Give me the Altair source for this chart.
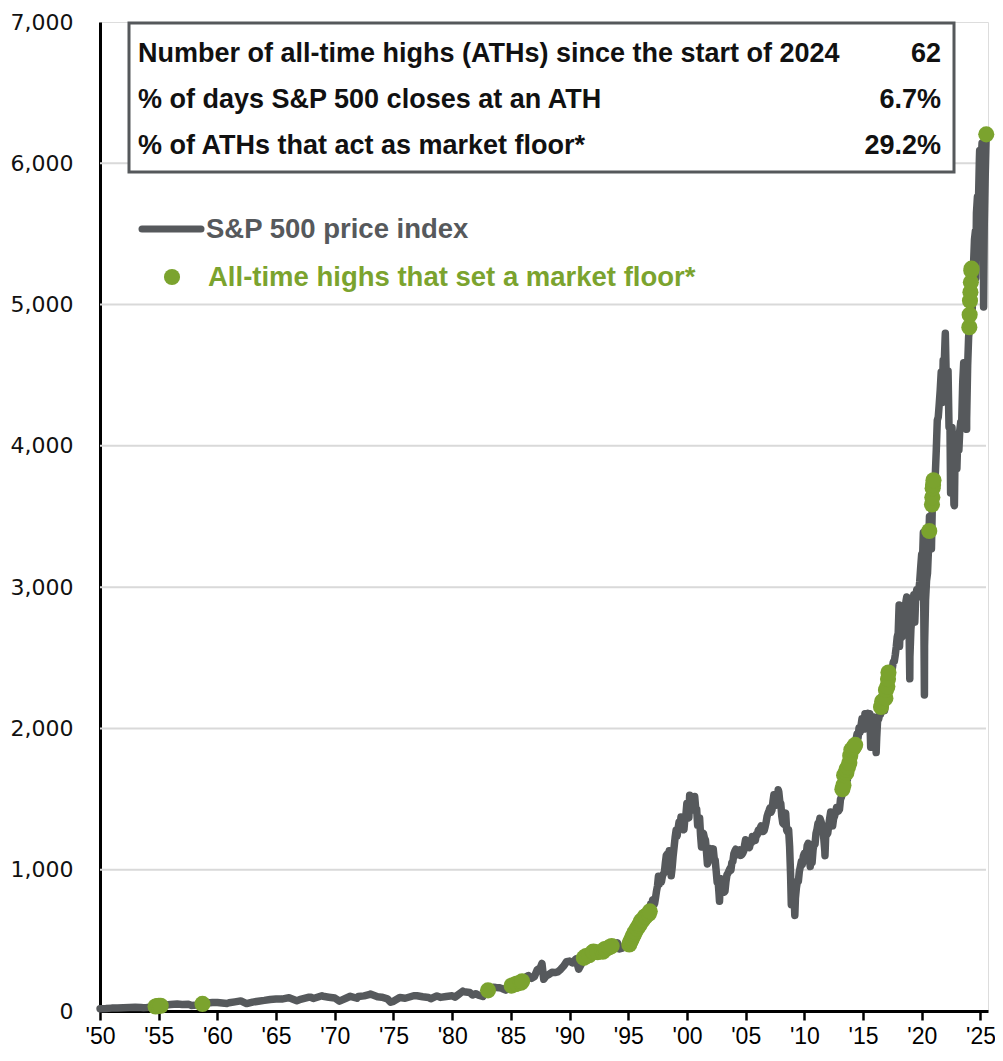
import altair as alt
import pandas as pd

GRAY = "#56595c"
GREEN = "#7ba32e"

# ---- S&P 500 price index: early irregular observations ----
early_dates = [
    "1950-01-03", "1950-06-30", "1950-12-29", "1951-06-29", "1951-12-31",
    "1952-06-30", "1952-12-31", "1953-06-30", "1953-09-14", "1953-12-31",
    "1954-06-30", "1954-12-31", "1955-06-30", "1955-12-30", "1956-07-31",
    "1956-12-31", "1957-07-15", "1957-10-22", "1957-12-31", "1958-06-30",
    "1958-12-31", "1959-07-31", "1959-12-31", "1960-10-25", "1960-12-30",
    "1961-06-30", "1961-12-29", "1962-06-26", "1962-12-31", "1963-06-28",
    "1963-12-31", "1964-06-30", "1964-12-31", "1965-06-30", "1965-12-31",
    "1966-02-09", "1966-10-07", "1966-12-30", "1967-09-25", "1967-12-29",
    "1968-03-05", "1968-11-29", "1968-12-31", "1969-06-30", "1969-12-31",
    "1970-05-26", "1970-12-31", "1971-04-28", "1971-11-23", "1971-12-31",
    "1972-06-30", "1972-12-29", "1973-01-11", "1973-08-22", "1973-12-31",
    "1974-06-28", "1974-10-03", "1974-12-31", "1975-07-15", "1975-12-31",
    "1976-09-21", "1976-12-31", "1977-06-30", "1977-12-30", "1978-03-06",
    "1978-09-12", "1978-12-29", "1979-06-29", "1979-12-31",
    "1980-03-27", "1980-06-30", "1980-11-28", "1980-12-31",
    "1981-06-30", "1981-09-25", "1981-12-31", "1982-03-31", "1982-08-12",
    "1982-10-29", "1982-12-31", "1983-03-31", "1983-06-30", "1983-09-30",
    "1983-12-30", "1984-03-30", "1984-07-24", "1984-09-28", "1984-12-31",
    "1985-03-29", "1985-06-28", "1985-09-30", "1985-12-31", "1986-03-31",
    "1986-06-30", "1986-09-30", "1986-12-31", "1987-03-31", "1987-06-30",
    "1987-08-25", "1987-10-19", "1987-12-31", "1988-03-31", "1988-06-30",
    "1988-09-30", "1988-12-30", "1989-03-31", "1989-06-30", "1989-09-29",
    "1989-12-29", "1990-03-30", "1990-07-16", "1990-10-11", "1990-12-31",
    "1991-03-28", "1991-06-28", "1991-09-30", "1991-12-31", "1992-03-31",
    "1992-06-30", "1992-09-30", "1992-12-31", "1993-03-31", "1993-06-30",
    "1993-09-30", "1993-12-31", "1994-01-31", "1994-04-04", "1994-06-30",
    "1994-09-30", "1994-12-30",
]
early_values = [
    16.7, 17.7, 20.4, 21.0, 23.8,
    25.0, 26.6, 24.1, 23.3, 24.8,
    29.2, 36.0, 41.0, 45.5, 49.4,
    46.7, 47.9, 39.4, 40.0, 45.2,
    55.2, 60.5, 59.9, 53.4, 58.1,
    64.6, 71.6, 52.3, 63.1, 69.4,
    75.0, 81.7, 84.8, 84.1, 92.4,
    94.0, 73.2, 80.3, 96.7, 96.5,
    88.0, 108.4, 103.9, 97.7, 92.1,
    69.3, 92.2, 104.0, 90.2, 102.1,
    107.1, 118.1, 120.2, 100.5, 97.6,
    86.0, 62.3, 68.6, 95.6, 90.2,
    107.8, 107.5, 100.5, 95.1, 86.9,
    106.9, 96.1, 102.9, 107.9,
    98.2, 114.2, 140.5, 135.8,
    131.2, 112.8, 122.6, 112.0, 102.4,
    133.7, 140.6, 153.0, 168.1, 166.1,
    164.9, 159.2, 147.8, 166.1, 167.2,
    180.7, 191.9, 182.1, 211.3, 238.9,
    250.8, 231.3, 242.2, 291.7, 304.0,
    336.8, 224.8, 247.1, 258.9, 273.5,
    272.0, 277.7, 294.9, 318.0, 349.2,
    353.4, 339.9, 368.9, 295.5, 330.2,
    375.2, 371.2, 387.9, 417.1, 403.7,
    408.1, 417.8, 435.7, 451.7, 450.5,
    458.9, 466.5, 482.0, 438.9, 444.3,
    462.7, 459.3,
]

# ---- monthly closes 1995 - mid 2025 ----
monthly_values = {
    1995: [470.4, 487.4, 500.7, 514.7, 533.4, 544.8, 562.1, 561.9, 584.4, 581.5, 605.4, 615.9],
    1996: [636.0, 640.4, 645.5, 654.2, 669.1, 670.6, 639.9, 652.0, 687.3, 705.3, 757.0, 740.7],
    1997: [786.2, 790.8, 757.1, 801.3, 848.3, 885.1, 954.3, 899.5, 947.3, 914.6, 955.4, 970.4],
    1998: [980.3, 1049.3, 1101.8, 1111.8, 1090.8, 1133.8, 1120.7, 957.3, 1017.0, 1098.7, 1163.6, 1229.2],
    1999: [1279.6, 1238.3, 1286.4, 1335.2, 1301.8, 1372.7, 1328.7, 1320.4, 1282.7, 1362.9, 1388.9, 1469.3],
    2000: [1394.5, 1366.4, 1498.6, 1452.4, 1420.6, 1454.6, 1430.8, 1517.7, 1436.5, 1429.4, 1315.2, 1320.3],
    2001: [1366.0, 1239.9, 1160.3, 1249.5, 1255.8, 1224.4, 1211.2, 1133.6, 1040.9, 1059.8, 1139.5, 1148.1],
    2002: [1130.2, 1106.7, 1147.4, 1076.9, 1067.1, 989.8, 911.6, 916.1, 815.3, 885.8, 936.3, 879.8],
    2003: [855.7, 841.2, 848.2, 916.9, 963.6, 974.5, 990.3, 1008.0, 996.0, 1050.7, 1058.2, 1111.9],
    2004: [1131.1, 1144.9, 1126.2, 1107.3, 1120.7, 1140.8, 1101.7, 1104.2, 1114.6, 1130.2, 1173.8, 1211.9],
    2005: [1181.3, 1203.6, 1180.6, 1156.9, 1191.5, 1191.3, 1234.2, 1220.3, 1228.8, 1207.0, 1249.5, 1248.3],
    2006: [1280.1, 1280.7, 1294.8, 1310.6, 1270.1, 1270.2, 1276.7, 1303.8, 1335.9, 1377.9, 1400.6, 1418.3],
    2007: [1438.2, 1406.8, 1420.9, 1482.4, 1530.6, 1503.4, 1455.3, 1474.0, 1526.8, 1549.4, 1481.1, 1468.4],
    2008: [1378.6, 1330.6, 1322.7, 1385.6, 1400.4, 1280.0, 1267.4, 1282.8, 1166.4, 968.8, 896.2, 903.3],
    2009: [825.9, 735.1, 797.9, 872.8, 919.1, 919.3, 987.5, 1020.6, 1057.1, 1036.2, 1095.6, 1115.1],
    2010: [1073.9, 1104.5, 1169.4, 1186.7, 1089.4, 1030.7, 1101.6, 1049.3, 1141.2, 1183.3, 1180.6, 1257.6],
    2011: [1286.1, 1327.2, 1325.8, 1363.6, 1345.2, 1320.6, 1292.3, 1218.9, 1131.4, 1253.3, 1247.0, 1257.6],
    2012: [1312.4, 1365.7, 1408.5, 1397.9, 1310.3, 1362.2, 1379.3, 1406.6, 1440.7, 1412.2, 1416.2, 1426.2],
    2013: [1498.1, 1514.7, 1569.2, 1597.6, 1630.7, 1606.3, 1685.7, 1633.0, 1681.6, 1756.5, 1805.8, 1848.4],
    2014: [1782.6, 1859.5, 1872.3, 1883.9, 1923.6, 1960.2, 1930.7, 2003.4, 1972.3, 2018.1, 2067.6, 2058.9],
    2015: [1995.0, 2104.5, 2067.9, 2085.5, 2107.4, 2063.1, 2103.8, 1972.2, 1920.0, 2079.4, 2080.4, 2043.9],
    2016: [1940.2, 1932.2, 2059.7, 2065.3, 2097.0, 2098.9, 2173.6, 2171.0, 2168.3, 2126.2, 2198.8, 2238.8],
    2017: [2278.9, 2363.6, 2362.7, 2384.2, 2411.8, 2423.4, 2470.3, 2471.7, 2519.4, 2575.3, 2647.6, 2673.6],
    2018: [2823.8, 2713.8, 2640.9, 2648.1, 2705.3, 2718.4, 2816.3, 2901.5, 2914.0, 2711.7, 2760.2, 2506.9],
    2019: [2704.1, 2784.5, 2834.4, 2945.8, 2752.1, 2941.8, 2980.4, 2926.5, 2976.7, 3037.6, 3141.0, 3230.8],
    2020: [3225.5, 2954.2, 2584.6, 2912.4, 3044.3, 3100.3, 3271.1, 3500.3, 3363.0, 3270.0, 3621.6, 3756.1],
    2021: [3714.2, 3811.2, 3972.9, 4181.2, 4204.1, 4297.5, 4395.3, 4522.7, 4307.5, 4605.4, 4567.0, 4766.2],
    2022: [4515.6, 4373.9, 4530.4, 4131.9, 4132.2, 3785.4, 4130.3, 3955.0, 3585.6, 3872.0, 4080.1, 3839.5],
    2023: [4076.6, 3970.2, 4109.3, 4169.5, 4179.8, 4450.4, 4589.0, 4507.7, 4288.1, 4193.8, 4567.8, 4769.8],
    2024: [4845.7, 5096.3, 5254.4, 5035.7, 5277.5, 5460.5, 5522.3, 5648.4, 5762.5, 5705.5, 6032.4, 5881.6],
    2025: [6040.5, 5954.5, 5611.9, 5569.1, 5911.7, 6204.9],
}

# ---- intra-month extremes ----
extreme_dates = [
    "2000-03-24", "2002-10-09", "2007-10-09", "2008-11-20", "2009-03-09",
    "2010-07-02", "2011-10-03", "2015-08-25", "2016-02-11", "2018-01-26",
    "2018-02-08", "2018-09-20", "2018-12-24", "2020-02-19", "2020-03-23",
    "2022-01-03", "2022-06-16", "2022-10-12", "2023-10-27", "2024-04-19",
    "2024-08-05", "2024-12-06", "2025-02-19", "2025-04-08",
]
extreme_values = [
    1527.5, 776.8, 1565.2, 752.4, 676.5,
    1022.6, 1099.2, 1867.6, 1829.1, 2872.9,
    2581.0, 2930.8, 2351.1, 3386.2, 2237.4,
    4796.6, 3666.8, 3577.0, 4117.4, 4967.2,
    5186.3, 6090.3, 6144.2, 4982.8,
]

# ---- all-time highs that set a market floor ----
ath_dates = [
    "1954-09-24", "1954-11-15", "1955-01-04", "1955-03-04",
    "1958-09-24",
    "1983-01-20",
    "1985-01-25", "1985-05-20", "1985-07-17", "1985-11-07", "1985-12-16",
    "1991-03-20", "1991-05-29", "1991-08-28", "1991-12-23", "1992-01-15",
    "1992-05-19", "1992-10-30", "1992-12-18", "1993-02-01", "1993-05-19",
    "1993-08-02",
    "1995-01-31", "1995-02-28", "1995-03-31", "1995-04-28", "1995-05-31",
    "1995-06-30", "1995-07-31", "1995-09-29", "1995-11-30", "1995-12-29",
    "1996-01-31", "1996-02-29", "1996-03-29", "1996-05-31", "1996-06-28",
    "1996-09-30", "1996-10-31",
    "2013-03-28", "2013-04-30", "2013-05-21", "2013-07-31", "2013-08-02",
    "2013-09-18", "2013-10-31", "2013-11-27", "2013-12-31", "2014-02-28",
    "2014-03-28", "2014-04-30",
    "2016-07-12", "2016-08-15", "2016-11-25", "2016-12-13", "2017-01-26",
    "2017-02-15", "2017-03-01",
    "2020-08-21",
    "2020-11-13", "2020-11-24", "2020-12-04", "2020-12-17", "2020-12-31",
    "2024-01-19", "2024-01-29", "2024-02-09", "2024-02-22", "2024-03-07",
    "2024-03-21", "2024-03-28",
    "2025-06-30",
]
ath_values = [
    32.0, 34.5, 36.8, 37.0,
    50.0,
    146.0,
    180.0, 189.5, 195.0, 200.0, 211.0,
    376.0, 389.0, 395.0, 417.0, 420.0,
    416.0, 419.0, 436.0, 439.0, 450.0,
    460.0,
    470.4, 487.4, 500.7, 514.7, 533.4,
    544.8, 562.1, 584.4, 605.4, 615.9,
    636.0, 640.4, 645.5, 669.1, 670.6,
    687.3, 705.3,
    1569.2, 1597.6, 1669.2, 1685.7, 1709.7,
    1725.5, 1756.5, 1807.2, 1848.4, 1859.5,
    1872.3, 1883.9,
    2152.1, 2190.2, 2213.4, 2271.7, 2296.7,
    2349.3, 2395.96,
    3397.2,
    3585.2, 3635.4, 3699.1, 3722.5, 3756.1,
    4839.8, 4927.9, 5026.6, 5087.0, 5157.4,
    5241.5, 5254.4,
    6204.9,
]

box_labels = [
    "Number of all-time highs (ATHs) since the start of 2024",
    "% of days S&P 500 closes at an ATH",
    "% of ATHs that act as market floor*",
]
box_values = ["62", "6.7%", "29.2%"]
legend_labels = ["S&P 500 price index", "All-time highs that set a market floor*"]

x_ticks = list(range(1950, 2026, 5))
y_ticks = [0, 1000, 2000, 3000, 4000, 5000, 6000, 7000]
grid_values = [1000, 2000, 3000, 4000, 5000, 6000]


def to_year(dates):
    d = pd.to_datetime(pd.Series(dates))
    days = d.dt.is_leap_year.map({True: 366.0, False: 365.0})
    return d.dt.year + (d.dt.dayofyear - 1) / days


m_dates, m_vals = [], []
for yr, vals in monthly_values.items():
    for i, v in enumerate(vals):
        m_dates.append(f"{yr}-{i + 1:02d}-28")
        m_vals.append(v)

all_dates = early_dates + m_dates + extreme_dates
all_vals = early_values + m_vals + extreme_values
line_df = pd.DataFrame({"t": to_year(all_dates), "v": all_vals}).sort_values("t")
ath_df = pd.DataFrame({"t": to_year(ath_dates), "v": ath_values})
grid_df = pd.DataFrame({"v": grid_values})
one = pd.DataFrame({"k": [0]})

W, H = 888, 989
X0, X1 = 1950, 2025.64
FONT = "Liberation Sans"

xs = alt.Scale(domain=[X0, X1], nice=False, zero=False)
ys = alt.Scale(domain=[0, 7000], nice=False)

x_axis = alt.Axis(
    values=x_ticks,
    labelExpr='"\'" + substring(toString(datum.value), 2, 4)',
    grid=False, domain=True, domainColor="black", domainWidth=3,
    ticks=True, tickColor="black", tickWidth=2.5, tickSize=9,
    labelFont=FONT, labelFontSize=23, labelColor="black",
    labelPadding=5, title=None, labelFlush=False, labelOverlap=False,
)
y_axis = alt.Axis(
    values=y_ticks, format=",d", grid=False, domain=True,
    domainColor="black", domainWidth=3, ticks=False,
    labelFont="DejaVu Sans", labelFontSize=22, labelColor="#111111",
    labelPadding=27, title=None,
)

grid = alt.Chart(grid_df).mark_rule(color="#d9d9d9", strokeWidth=2).encode(
    y=alt.Y("v:Q", scale=ys, axis=y_axis),
    x=alt.value(0), x2=alt.value(886),
)

line = alt.Chart(line_df).mark_line(
    color=GRAY, strokeWidth=7.5, strokeCap="round", strokeJoin="round"
).encode(
    x=alt.X("t:Q", scale=xs, axis=x_axis),
    y=alt.Y("v:Q", scale=ys, axis=y_axis),
    order="t:Q",
)

points = alt.Chart(ath_df).mark_circle(color=GREEN, size=260, opacity=1).encode(
    x=alt.X("t:Q", scale=xs),
    y=alt.Y("v:Q", scale=ys),
)

box = alt.Chart(one).mark_rect(fill="white", stroke="#55585b", strokeWidth=3).encode(
    x=alt.value(29), x2=alt.value(854), y=alt.value(1), y2=alt.value(150)
)

layers = [grid, line, points, box]
for i, (lab, val) in enumerate(zip(box_labels, box_values)):
    yy = 32 + 46 * i
    layers.append(
        alt.Chart(one).mark_text(
            text=lab, align="left", baseline="middle", font=FONT,
            fontWeight="bold", fontSize=27, color="#111111",
        ).encode(x=alt.value(38), y=alt.value(yy))
    )
    layers.append(
        alt.Chart(one).mark_text(
            text=val, align="right", baseline="middle", font=FONT,
            fontWeight="bold", fontSize=27, color="#111111",
        ).encode(x=alt.value(841), y=alt.value(yy))
    )

leg_line = alt.Chart(one).mark_rule(color=GRAY, strokeWidth=7, strokeCap="round").encode(
    x=alt.value(42), x2=alt.value(101), y=alt.value(207)
)
leg_text1 = alt.Chart(one).mark_text(
    text=legend_labels[0], align="left", baseline="middle", font=FONT,
    fontWeight="bold", fontSize=27.5, color=GRAY,
).encode(x=alt.value(106), y=alt.value(208))
leg_dot = alt.Chart(one).mark_circle(color=GREEN, size=260, opacity=1).encode(
    x=alt.value(72), y=alt.value(255)
)
leg_text2 = alt.Chart(one).mark_text(
    text=legend_labels[1], align="left", baseline="middle", font=FONT,
    fontWeight="bold", fontSize=27.5, color=GREEN,
).encode(x=alt.value(108), y=alt.value(256))
layers += [leg_line, leg_text1, leg_dot, leg_text2]

chart = alt.layer(*layers).properties(
    width=W, height=H,
    autosize=alt.AutoSizeParams(type="none"),
    padding={"left": 92, "top": 14, "right": 7, "bottom": 42},
).configure_view(stroke=None).configure(background="white")

chart.save("out.html", embed_options={"renderer": "svg", "actions": False})
